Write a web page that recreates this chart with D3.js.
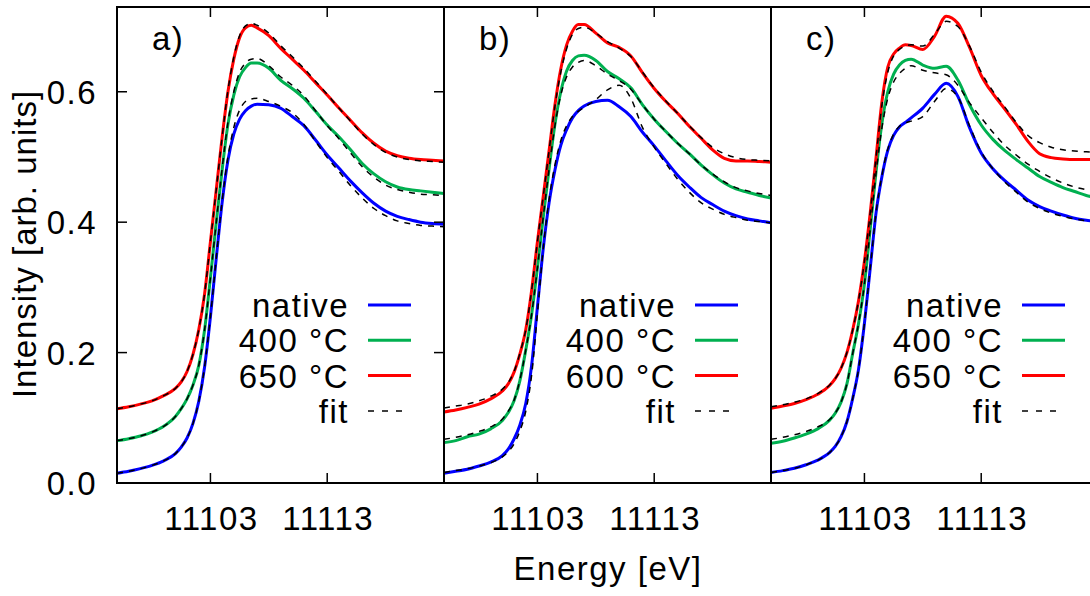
<!DOCTYPE html>
<html>
<head>
<meta charset="utf-8">
<script src="https://cdn.jsdelivr.net/npm/d3@7"></script>
<style>
  body { margin: 0; background: #fff; }
  svg { display: block; font-family: "Liberation Sans", Arial, sans-serif; }
  text { letter-spacing: 1.5px; }
</style>
</head>
<body>
<svg id="chart" width="1090" height="596"></svg>
<script>
const energy = [11095, 11096, 11097, 11098, 11099, 11100, 11100.5, 11101, 11101.5, 11102,
  11102.5, 11103, 11103.5, 11104, 11104.5, 11105, 11105.5, 11106, 11106.5, 11107,
  11108, 11109, 11110, 11111, 11112, 11113, 11114, 11115, 11116, 11117,
  11118, 11119, 11120, 11121, 11122, 11123];

// panel a
const aNative = [0.015, 0.018, 0.022, 0.027, 0.034, 0.045, 0.055, 0.069, 0.091, 0.125, 0.178, 0.255, 0.345, 0.430, 0.495, 0.535, 0.558, 0.571, 0.578, 0.581, 0.580, 0.575, 0.562, 0.548, 0.526, 0.503, 0.483, 0.463, 0.445, 0.429, 0.417, 0.409, 0.404, 0.400, 0.398, 0.397];
const aNativeFit = [0.015, 0.018, 0.022, 0.027, 0.034, 0.045, 0.055, 0.069, 0.091, 0.125, 0.178, 0.255, 0.345, 0.432, 0.500, 0.545, 0.572, 0.585, 0.589, 0.590, 0.585, 0.578, 0.568, 0.550, 0.524, 0.499, 0.478, 0.456, 0.437, 0.421, 0.410, 0.402, 0.398, 0.395, 0.394, 0.393];
const a400 = [0.065, 0.068, 0.072, 0.078, 0.087, 0.102, 0.114, 0.129, 0.150, 0.180, 0.235, 0.315, 0.400, 0.480, 0.550, 0.595, 0.623, 0.637, 0.644, 0.644, 0.636, 0.618, 0.605, 0.590, 0.570, 0.549, 0.531, 0.511, 0.490, 0.474, 0.462, 0.454, 0.450, 0.448, 0.446, 0.444];
const a400Fit = [0.065, 0.068, 0.072, 0.078, 0.087, 0.102, 0.114, 0.129, 0.150, 0.180, 0.235, 0.315, 0.400, 0.482, 0.553, 0.600, 0.630, 0.644, 0.650, 0.651, 0.640, 0.623, 0.610, 0.594, 0.571, 0.548, 0.528, 0.506, 0.485, 0.469, 0.457, 0.450, 0.446, 0.443, 0.442, 0.441];
const a650 = [0.114, 0.117, 0.121, 0.126, 0.134, 0.145, 0.155, 0.171, 0.197, 0.235, 0.290, 0.370, 0.450, 0.530, 0.600, 0.650, 0.683, 0.698, 0.702, 0.698, 0.686, 0.667, 0.650, 0.633, 0.614, 0.595, 0.575, 0.556, 0.537, 0.521, 0.509, 0.502, 0.498, 0.496, 0.495, 0.494];
const a650Fit = [0.114, 0.117, 0.121, 0.126, 0.134, 0.145, 0.155, 0.171, 0.197, 0.235, 0.290, 0.370, 0.450, 0.530, 0.602, 0.653, 0.686, 0.701, 0.705, 0.702, 0.690, 0.671, 0.654, 0.636, 0.616, 0.596, 0.575, 0.555, 0.535, 0.519, 0.507, 0.500, 0.496, 0.494, 0.493, 0.492];

// panel b
const bNative = [0.015, 0.018, 0.021, 0.026, 0.032, 0.042, 0.052, 0.0675, 0.089, 0.122, 0.180, 0.270, 0.360, 0.430, 0.480, 0.518, 0.542, 0.560, 0.571, 0.578, 0.585, 0.587, 0.577, 0.562, 0.538, 0.517, 0.494, 0.472, 0.454, 0.438, 0.427, 0.417, 0.410, 0.405, 0.402, 0.399];
const bNativeFit = [0.016, 0.019, 0.022, 0.026, 0.031, 0.040, 0.048, 0.060, 0.080, 0.110, 0.165, 0.260, 0.360, 0.435, 0.488, 0.525, 0.548, 0.562, 0.570, 0.576, 0.588, 0.603, 0.610, 0.590, 0.545, 0.515, 0.490, 0.466, 0.446, 0.430, 0.420, 0.412, 0.407, 0.403, 0.401, 0.399];
const b400 = [0.062, 0.065, 0.071, 0.075, 0.083, 0.096, 0.108, 0.126, 0.157, 0.204, 0.258, 0.330, 0.408, 0.482, 0.550, 0.600, 0.632, 0.648, 0.655, 0.656, 0.648, 0.631, 0.620, 0.606, 0.580, 0.558, 0.539, 0.521, 0.505, 0.488, 0.473, 0.460, 0.451, 0.446, 0.441, 0.437];
const b400Fit = [0.067, 0.070, 0.074, 0.079, 0.086, 0.098, 0.110, 0.127, 0.158, 0.204, 0.258, 0.330, 0.408, 0.482, 0.548, 0.595, 0.623, 0.638, 0.645, 0.648, 0.640, 0.627, 0.617, 0.604, 0.580, 0.558, 0.539, 0.521, 0.505, 0.488, 0.474, 0.462, 0.453, 0.448, 0.444, 0.441];
const b600 = [0.109, 0.112, 0.116, 0.121, 0.129, 0.141, 0.152, 0.170, 0.198, 0.235, 0.295, 0.370, 0.440, 0.510, 0.580, 0.635, 0.672, 0.693, 0.703, 0.703, 0.690, 0.675, 0.668, 0.655, 0.629, 0.605, 0.585, 0.567, 0.547, 0.529, 0.511, 0.498, 0.494, 0.494, 0.493, 0.492];
const b600Fit = [0.115, 0.118, 0.121, 0.126, 0.133, 0.144, 0.154, 0.171, 0.199, 0.235, 0.295, 0.370, 0.440, 0.510, 0.578, 0.630, 0.666, 0.688, 0.697, 0.699, 0.690, 0.677, 0.667, 0.654, 0.630, 0.606, 0.586, 0.567, 0.548, 0.530, 0.515, 0.505, 0.499, 0.496, 0.495, 0.494];

// panel c
const cNative = [0.016, 0.019, 0.0225, 0.028, 0.035, 0.0465, 0.056, 0.071, 0.094, 0.130, 0.175, 0.245, 0.330, 0.415, 0.470, 0.510, 0.533, 0.546, 0.553, 0.560, 0.575, 0.596, 0.613, 0.593, 0.545, 0.506, 0.482, 0.464, 0.449, 0.434, 0.424, 0.417, 0.411, 0.406, 0.403, 0.401];
const cNativeFit = [0.016, 0.019, 0.0225, 0.028, 0.035, 0.0465, 0.056, 0.071, 0.094, 0.130, 0.175, 0.245, 0.330, 0.415, 0.472, 0.512, 0.535, 0.547, 0.552, 0.555, 0.562, 0.585, 0.605, 0.592, 0.548, 0.508, 0.482, 0.462, 0.446, 0.431, 0.421, 0.414, 0.409, 0.405, 0.402, 0.400];
const c400 = [0.061, 0.064, 0.069, 0.075, 0.083, 0.096, 0.107, 0.124, 0.152, 0.199, 0.245, 0.305, 0.390, 0.478, 0.552, 0.600, 0.627, 0.641, 0.648, 0.650, 0.641, 0.636, 0.639, 0.618, 0.580, 0.549, 0.527, 0.510, 0.496, 0.483, 0.470, 0.461, 0.453, 0.447, 0.441, 0.437];
const c400Fit = [0.067, 0.070, 0.074, 0.079, 0.086, 0.097, 0.107, 0.124, 0.152, 0.199, 0.245, 0.305, 0.390, 0.476, 0.545, 0.590, 0.615, 0.628, 0.636, 0.640, 0.633, 0.629, 0.626, 0.610, 0.583, 0.560, 0.538, 0.518, 0.503, 0.489, 0.478, 0.468, 0.460, 0.454, 0.450, 0.447];
const c650 = [0.1145, 0.118, 0.122, 0.128, 0.136, 0.149, 0.160, 0.176, 0.200, 0.235, 0.280, 0.340, 0.415, 0.500, 0.585, 0.638, 0.658, 0.667, 0.672, 0.671, 0.665, 0.685, 0.716, 0.705, 0.668, 0.625, 0.597, 0.574, 0.550, 0.524, 0.505, 0.499, 0.497, 0.496, 0.496, 0.496];
const c650Fit = [0.117, 0.120, 0.124, 0.129, 0.137, 0.150, 0.160, 0.176, 0.200, 0.235, 0.280, 0.340, 0.415, 0.500, 0.580, 0.630, 0.655, 0.665, 0.670, 0.672, 0.670, 0.688, 0.708, 0.700, 0.670, 0.630, 0.601, 0.577, 0.553, 0.533, 0.522, 0.515, 0.511, 0.509, 0.508, 0.507];

const panelNames = ["a)", "b)", "c)"];
const legendLabels = [
  ["native", "400 °C", "650 °C"],
  ["native", "400 °C", "600 °C"],
  ["native", "400 °C", "650 °C"]
];
const panelSeries = [
  [aNative, a400, a650],
  [bNative, b400, b600],
  [cNative, c400, c650]
];
const panelFits = [
  [aNativeFit, a400Fit, a650Fit],
  [bNativeFit, b400Fit, b600Fit],
  [cNativeFit, c400Fit, c650Fit]
];
const xTicks = [11103, 11113];
const yTicks = [0.0, 0.2, 0.4, 0.6];

const colors = ["#0000ff", "#00b050", "#ff0000"];

const svg = d3.select("#chart");
const panelW = 327;
const panelLeft = [117, 444, 771];
const plotTop = 7, plotBottom = 483;
const fontSize = 33;

const y = d3.scaleLinear().domain([0, 0.73]).range([plotBottom, plotTop]);

function drawPanel(i) {
  const x0 = panelLeft[i];
  const x = d3.scaleLinear().domain([11095, 11123]).range([x0, x0 + panelW]);
  const g = svg.append("g");

  const line = d3.line()
    .x((d, k) => x(energy[k]))
    .y(d => y(d))
    .curve(d3.curveMonotoneX);

  panelSeries[i].forEach((s, k) => {
    g.append("path")
      .datum(s)
      .attr("fill", "none")
      .attr("stroke", colors[k])
      .attr("stroke-width", 3)
      .attr("stroke-linejoin", "round")
      .attr("d", line);
  });
  panelFits[i].forEach(s => {
    g.append("path")
      .datum(s)
      .attr("fill", "none")
      .attr("stroke", "#000")
      .attr("stroke-width", 1.5)
      .attr("stroke-dasharray", "6,6")
      .attr("d", line);
  });

  // x ticks, inward on bottom and top
  const xt = g.append("g").attr("stroke", "#000").attr("stroke-width", 1.5);
  xTicks.forEach(t => {
    xt.append("line").attr("x1", x(t)).attr("x2", x(t)).attr("y1", plotBottom).attr("y2", plotBottom - 10);
    xt.append("line").attr("x1", x(t)).attr("x2", x(t)).attr("y1", plotTop).attr("y2", plotTop + 10);
  });
  g.selectAll(".xlab")
    .data(xTicks)
    .enter().append("text")
    .attr("x", d => x(d) + 1)
    .attr("y", 530)
    .attr("text-anchor", "middle")
    .attr("font-size", fontSize)
    .text(d => d);

  // only the first panel carries y ticks (mirrored on its right side)
  if (i == 0) {
    yTicks.forEach(t => {
      xt.append("line").attr("x1", x0).attr("x2", x0 + 10).attr("y1", y(t)).attr("y2", y(t));
      xt.append("line").attr("x1", x0 + panelW).attr("x2", x0 + panelW - 10).attr("y1", y(t)).attr("y2", y(t));
    });
    g.selectAll(".ylab")
      .data(yTicks)
      .enter().append("text")
      .attr("x", 97)
      .attr("y", d => y(d) + 12)
      .attr("text-anchor", "end")
      .attr("font-size", fontSize)
      .text(d => d.toFixed(1));
  }

  // border
  g.append("rect")
    .attr("x", x0).attr("y", plotTop)
    .attr("width", panelW).attr("height", plotBottom - plotTop)
    .attr("fill", "none")
    .attr("stroke", "#000")
    .attr("stroke-width", 2);

  g.append("text")
    .attr("x", x0 + 35)
    .attr("y", 50)
    .attr("font-size", fontSize)
    .text(panelNames[i]);

  // legend
  const labels = legendLabels[i].concat(["fit"]);
  labels.forEach((lab, k) => {
    const base = 317 + k * 35.3;
    g.append("text")
      .attr("x", x0 + 232)
      .attr("y", base)
      .attr("text-anchor", "end")
      .attr("font-size", fontSize)
      .text(lab);
    const ln = g.append("line")
      .attr("x1", x0 + 251).attr("x2", x0 + 294)
      .attr("y1", base - 12).attr("y2", base - 12);
    if (k < 3) {
      ln.attr("stroke", colors[k]).attr("stroke-width", 3);
    } else {
      ln.attr("x2", x0 + 287).attr("stroke", "#000").attr("stroke-width", 1.5).attr("stroke-dasharray", "6,8");
    }
  });
}

for (let i = 0; i < 3; i++) drawPanel(i);

svg.append("text")
  .attr("x", 608)
  .attr("y", 580)
  .attr("text-anchor", "middle")
  .attr("font-size", fontSize)
  .text("Energy [eV]");

svg.append("text")
  .attr("transform", "translate(36,244) rotate(-90)")
  .attr("text-anchor", "middle")
  .attr("font-size", fontSize)
  .style("letter-spacing", "1px")
  .text("Intensity [arb. units]");
</script>
</body>
</html>
